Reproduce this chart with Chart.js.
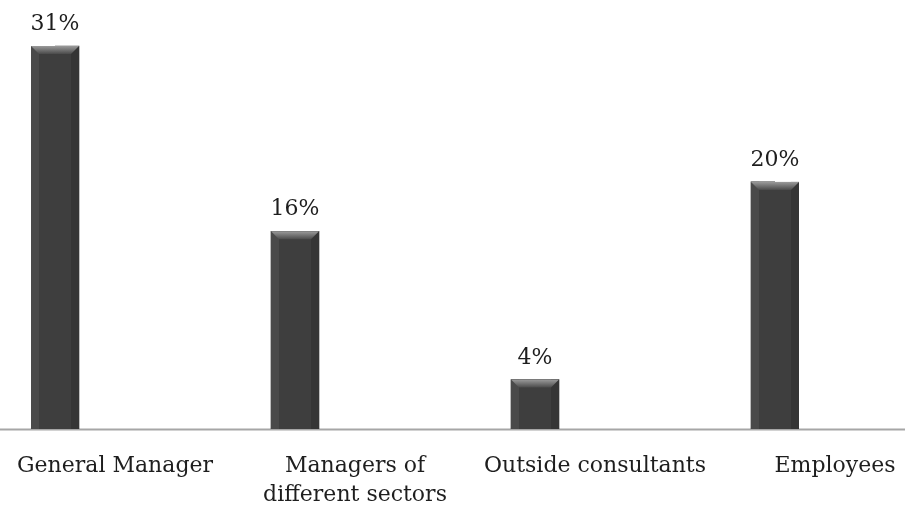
<!DOCTYPE html>
<html>
<head>
<meta charset="utf-8">
<script src="https://cdn.jsdelivr.net/npm/chart.js@4"></script>
<style>
  html, body { margin: 0; padding: 0; background: #fff; }
  #wrap { width: 905px; height: 508px; position: relative; }
</style>
</head>
<body>
<div id="wrap"><canvas id="c"></canvas></div>
<script>
// datos
const categories = [
  "General Manager",
  ["Managers of", "different sectors"],
  "Outside consultants",
  "Employees",
];
const shares = [31, 16, 4, 20];

const FONT = "'DejaVu Serif', 'Liberation Serif', serif";

// linea base a todo el ancho
const baselinePlugin = {
  id: "baseline",
  beforeDatasetsDraw(c) {
    const y = Math.round(c.scales.y.getPixelForValue(0)) + 0.5;
    const ctx = c.ctx;
    ctx.save();
    ctx.strokeStyle = "#a6a6a6";
    ctx.lineWidth = 2;
    ctx.beginPath();
    ctx.moveTo(0, y);
    ctx.lineTo(c.width, y);
    ctx.stroke();
    ctx.restore();
  },
};

// bisel de las barras + etiquetas de valor
const bevelPlugin = {
  id: "bevel",
  afterDatasetsDraw(c) {
    const ctx = c.ctx;
    const meta = c.getDatasetMeta(0);
    meta.data.forEach((bar, i) => {
      const p = bar.getProps(["x", "y", "base", "width"], true);
      const l = p.x - p.width / 2, r = p.x + p.width / 2;
      const top = p.y, bot = p.base;
      const b = 8;
      ctx.save();
      // cuerpo
      ctx.fillStyle = "#3e3e3e";
      ctx.fillRect(l, top, r - l, bot - top);
      // bordes laterales
      ctx.fillStyle = "#4a4a4a";
      ctx.fillRect(l, top, b, bot - top);
      ctx.fillStyle = "#353535";
      ctx.fillRect(r - b, top, b, bot - top);
      // bisel superior
      const g = ctx.createLinearGradient(0, top, 0, top + b);
      g.addColorStop(0, "#9a9a9a");
      g.addColorStop(1, "#4a4a4a");
      ctx.fillStyle = g;
      ctx.beginPath();
      ctx.moveTo(l, top);
      ctx.lineTo(r, top);
      ctx.lineTo(r - b, top + b);
      ctx.lineTo(l + b, top + b);
      ctx.closePath();
      ctx.fill();
      // valor
      ctx.fillStyle = "#1e1e1e";
      ctx.font = `22px ${FONT}`;
      ctx.textAlign = "center";
      ctx.textBaseline = "alphabetic";
      ctx.fillText(`${shares[i]}%`, p.x, top - 16);
      ctx.restore();
    });
  },
};

new Chart(document.getElementById("c"), {
  type: "bar",
  data: {
    labels: categories,
    datasets: [{
      data: shares,
      backgroundColor: "#3e3e3e",
      borderWidth: 0,
      barThickness: 48,
    }],
  },
  options: {
    responsive: true,
    maintainAspectRatio: false,
    animation: false,
    layout: { padding: { top: 9, left: 55, right: 130, bottom: 0 } },
    scales: {
      x: {
        offset: false,
        grid: { display: false, drawTicks: false },
        border: { display: false },
        ticks: {
          color: "#1e1e1e",
          font: { family: FONT, size: 22, lineHeight: 1.3 },
          labelOffset: 60,
          padding: 23,
          maxRotation: 0,
          autoSkip: false,
        },
        afterFit(s) {
          s.height = 79;
          s.paddingLeft = 0;
          s.paddingRight = 0;
        },
      },
      y: {
        display: false,
        min: 0,
        max: 34,
      },
    },
    plugins: {
      legend: { display: false },
      tooltip: { enabled: false },
    },
  },
  plugins: [baselinePlugin, bevelPlugin],
});
</script>
</body>
</html>
